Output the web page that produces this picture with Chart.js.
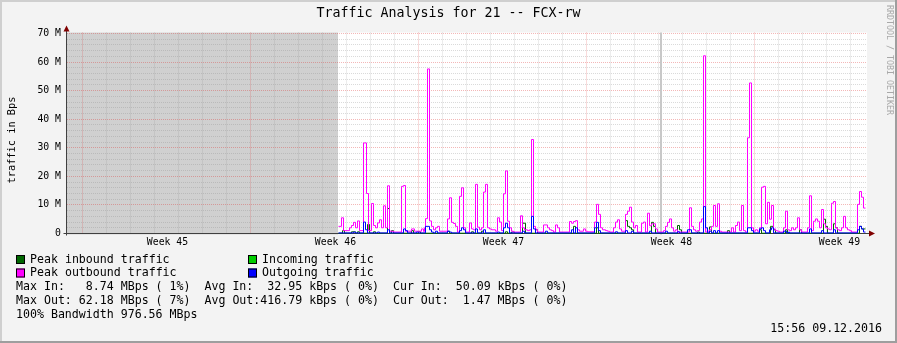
<!DOCTYPE html>
<html><head><meta charset="utf-8">
<script src="https://cdn.jsdelivr.net/npm/chart.js@4.4.1/dist/chart.umd.min.js"></script>
<style>html,body{margin:0;padding:0;background:#f3f3f3;overflow:hidden}canvas{display:block}</style>
</head><body>
<canvas id="c" width="897" height="343"></canvas>
<script>
// ---------- DATA ----------
const chartTitle = 'Traffic Analysis for 21 -- FCX-rw';
const yAxisTitle = 'traffic in Bps';
const yTickValues = [0, 10, 20, 30, 40, 50, 60, 70];           // in M (millions of Bps)
const weekTickHours = [100, 268, 436, 604, 772];                 // hours from left edge of graph
const weekLabels = ['Week 45', 'Week 46', 'Week 47', 'Week 48', 'Week 49'];
const weekStartHours = [15, 183, 351, 519, 687];
const dayStartHour = 15;
const unknownSpan = [-0.5, 270.5];
const vruleHour = 593.5;

// Peak outbound traffic (magenta) – change points: hour, value in M
const peakOutHours = [271,274,276,282,284,286,288,290,292,296,299,301,304,306,308,310,312,314,316,318,320,322,326,334,336,338,344,347,354,356,357,358,360,362,364,366,368,370,372,380,382,384,386,388,390,392,394,396,398,402,404,406,408,410,412,414,416,418,420,422,424,428,430,432,434,436,438,440,442,444,446,453,455,457,460,462,464,466,468,470,476,480,482,484,486,488,490,492,502,504,506,508,510,512,516,518,520,527,529,531,533,535,538,540,542,546,548,550,552,554,558,560,562,564,566,568,570,574,576,578,580,582,584,588,590,596,598,600,602,604,606,608,610,622,624,626,628,630,632,634,636,638,640,642,644,646,648,650,652,654,664,666,668,670,672,674,676,678,680,682,684,686,688,690,692,694,696,698,700,702,704,706,708,710,712,716,718,720,722,724,726,728,730,732,734,740,742,744,746,748,750,752,754,756,758,760,762,764,766,768,770,772,774,776,778,780,782,784,790,792,794,796,798];
const peakOutValues = [2.5,5.5,1.0,2.0,2.8,3.9,2.0,4.4,1.0,31.7,14.0,1.0,10.5,2.8,2.0,3.7,4.8,2.0,9.7,2.0,16.7,0.8,0.5,16.5,16.8,0.8,1.6,0.8,1.6,0.7,2.0,5.2,57.6,4.4,2.5,1.3,2.0,2.5,0.8,5.1,12.5,3.9,3.5,2.5,0.5,13.0,16.0,2.0,0.5,3.7,1.6,1.3,17.2,2.2,1.3,2.0,14.5,17.2,2.0,1.6,1.3,0.8,5.5,4.0,1.0,13.9,21.9,4.3,2.0,0.8,0.5,6.2,2.0,1.3,1.0,1.3,32.9,2.5,1.5,0.5,3.0,2.0,1.3,1.0,0.5,3.0,2.0,0.5,4.2,3.6,4.2,4.5,1.3,0.8,1.6,0.8,0.6,4.0,10.2,6.7,2.0,1.3,1.0,0.8,0.5,2.0,4.0,4.8,1.6,0.8,6.7,7.8,9.2,4.0,2.0,2.8,0.5,3.6,4.0,0.5,7.1,2.7,3.4,1.6,0.5,1.0,2.5,3.9,5.1,2.0,0.8,1.3,0.5,9.0,2.5,1.3,0.8,1.0,4.0,5.1,62.2,0.5,0.8,1.3,2.5,9.8,2.5,10.4,0.8,0.5,2.0,0.5,2.8,4.0,1.0,9.8,1.0,0.5,33.5,52.7,2.0,0.8,1.3,0.8,2.0,16.2,16.5,3.4,10.9,5.0,9.8,1.6,1.0,0.8,0.5,2.0,7.8,1.3,1.0,2.0,1.3,2.0,5.5,1.3,0.5,2.0,13.2,1.0,4.3,5.1,4.3,2.0,8.4,3.4,2.0,1.6,1.3,10.6,11.2,2.0,1.3,1.0,2.0,6.0,2.0,1.3,1.0,0.5,10.2,14.7,12.7,8.9,8.9];

// Outgoing traffic (blue)
const outHours = [271,286,288,296,298,300,310,312,320,322,336,338,340,349,351,358,362,364,366,368,370,380,382,384,392,394,396,398,408,410,416,418,430,432,436,438,440,442,455,457,464,466,468,478,480,504,506,508,510,527,529,531,533,548,550,558,560,564,566,582,584,598,600,610,612,620,624,636,638,640,642,644,646,648,650,652,680,684,686,692,694,696,698,702,704,706,716,719,721,722,742,744,754,756,766,768,790,792,794,796,798];
const outValues = [0.2,0.5,0.2,4.0,1.3,0.2,0.5,0.2,1.3,0.2,1.6,1.0,0.2,0.5,0.2,2.5,1.3,0.5,0.2,0.8,0.2,0.8,0.5,0.2,1.0,2.0,1.3,0.2,1.6,0.2,1.3,0.2,0.5,0.2,2.0,3.6,2.0,0.2,0.8,0.2,6.0,1.6,0.2,0.8,0.2,1.3,0.2,2.0,0.2,2.0,3.9,1.0,0.2,0.6,0.2,1.0,0.2,0.8,0.2,0.8,0.2,0.8,0.2,0.6,0.2,1.3,0.2,9.4,2.0,0.2,0.8,0.2,1.0,0.2,1.0,0.2,2.0,1.0,0.2,1.6,2.0,1.0,0.2,1.3,2.0,0.2,0.8,0.2,0.5,0.2,1.6,0.2,1.0,0.2,1.3,0.2,1.3,2.5,1.6,0.5,0.5];

// Peak inbound traffic (dark green)
const peakInHours = [271,275,277,284,288,290,292,300,302,306,308,320,322,324,326,344,346,351,353,380,382,404,406,414,416,438,440,444,447,455,458,468,470,506,508,529,531,558,560,562,564,566,584,586,588,610,612,614,630,632,642,644,660,662,692,694,703,706,708,718,720,732,734,756,758,760,766,768,770,792,794,798];
const peakInValues = [0.1,1.0,0.1,0.6,0.1,0.6,0.1,3.2,0.1,0.6,0.1,8.74,0.1,1.0,0.1,1.0,0.1,0.6,0.1,0.8,0.1,0.6,0.1,0.8,0.1,0.6,0.1,0.5,0.1,3.6,0.1,1.3,0.1,2.5,0.1,2.0,0.1,4.5,2.5,2.0,1.3,0.1,3.9,2.5,0.1,2.8,1.3,0.1,0.5,0.1,2.3,0.1,1.0,0.1,1.3,0.1,2.5,1.3,0.1,1.3,0.1,1.3,0.1,5.0,2.5,0.1,3.4,2.0,0.1,2.5,1.6,1.6];

// Incoming traffic (green area) – average ~33 kBps, essentially flat at the baseline
const inHours = [271, 798];
const inValues = [0.03, 0.05];

const legendItems = [
  ['Peak inbound traffic', '#006600'],
  ['Incoming traffic', '#00cc00'],
  ['Peak outbound traffic', '#ff00ff'],
  ['Outgoing traffic', '#0000ff']
];
const statLines = [
  'Max In:   8.74 MBps ( 1%)  Avg In:  32.95 kBps ( 0%)  Cur In:  50.09 kBps ( 0%)',
  'Max Out: 62.18 MBps ( 7%)  Avg Out:416.79 kBps ( 0%)  Cur Out:  1.47 MBps ( 0%)',
  '100% Bandwidth 976.56 MBps'
];
const timestampText = '15:56 09.12.2016';
const creditText = 'RRDTOOL / TOBI OETIKER';

// ---------- CHART ----------
const MONO = "'DejaVu Sans Mono', monospace";
const pts = (hs, vs) => hs.map((h, i) => ({x: h, y: vs[i]}));

const rrdPlugin = {
  id: 'rrd',
  beforeDraw(chart) {
    const {ctx, chartArea: a, scales: {x, y}} = chart;
    const W = chart.width, H = chart.height;
    ctx.save();
    ctx.fillStyle = '#f3f3f3'; ctx.fillRect(0, 0, W, H);
    ctx.fillStyle = '#cfcfcf'; ctx.fillRect(0, 0, W, 2); ctx.fillRect(0, 0, 2, H);
    ctx.fillStyle = '#9e9e9e'; ctx.fillRect(0, H - 2, W, 2); ctx.fillRect(W - 2, 0, 2, H);
    const top = Math.round(y.getPixelForValue(70)) - 0.5;
    const bot = Math.round(y.getPixelForValue(0)) + 0.5;
    ctx.fillStyle = '#ffffff'; ctx.fillRect(a.left, top, a.right - a.left, bot - top);
    const ux0 = x.getPixelForValue(unknownSpan[0]), ux1 = x.getPixelForValue(unknownSpan[1]);
    ctx.fillStyle = '#d0d0d0'; ctx.fillRect(ux0, top, ux1 - ux0, bot - top);
    ctx.lineWidth = 1; ctx.setLineDash([1, 1]);
    // minor grid
    ctx.strokeStyle = 'rgba(140,140,140,0.32)';
    ctx.beginPath();
    for (let v = 2; v < 70; v += 2) {
      if (v % 10 === 0) continue;
      const py = Math.floor(y.getPixelForValue(v)) + 0.5;
      ctx.moveTo(a.left, py); ctx.lineTo(a.right, py);
    }
    for (let h = dayStartHour; h < x.max; h += 24) {
      if (weekStartHours.includes(h)) continue;
      const px = Math.floor(x.getPixelForValue(h)) + 0.5;
      ctx.moveTo(px, top); ctx.lineTo(px, bot);
    }
    ctx.stroke();
    // major grid
    ctx.strokeStyle = 'rgba(220,50,50,0.35)';
    ctx.beginPath();
    for (const v of yTickValues) {
      if (v === 0) continue;
      const py = Math.floor(y.getPixelForValue(v)) + 0.5;
      ctx.moveTo(a.left, py); ctx.lineTo(a.right, py);
    }
    for (const h of weekStartHours) {
      const px = Math.floor(x.getPixelForValue(h)) + 0.5;
      ctx.moveTo(px, top); ctx.lineTo(px, bot);
    }
    ctx.stroke();
    ctx.setLineDash([]);
    // vrule
    const vx = Math.round(x.getPixelForValue(vruleHour));
    ctx.fillStyle = '#c8c8c8'; ctx.fillRect(vx - 1, top, 2, bot - top);
    ctx.restore();
  },
  beforeDatasetsDraw(chart) {
    const {ctx, chartArea: a, scales: {x, y}} = chart;
    const ay = Math.floor(y.getPixelForValue(0)) + 0.5;
    const ax = a.left - 0.5;
    const ty = Math.floor(y.getPixelForValue(70)) + 0.5;
    ctx.save();
    ctx.strokeStyle = '#404040'; ctx.lineWidth = 1;
    ctx.beginPath();
    ctx.moveTo(ax, ay + 2); ctx.lineTo(ax, ty - 3);
    ctx.moveTo(ax - 3, ay); ctx.lineTo(a.right + 2, ay);
    ctx.stroke();
    ctx.fillStyle = '#800000';
    ctx.beginPath();
    ctx.moveTo(ax - 3, ty - 2); ctx.lineTo(ax + 3, ty - 2); ctx.lineTo(ax, ty - 8); ctx.closePath(); ctx.fill();
    ctx.beginPath();
    ctx.moveTo(a.right + 2, ay - 3); ctx.lineTo(a.right + 2, ay + 3); ctx.lineTo(a.right + 8, ay); ctx.closePath(); ctx.fill();
    ctx.restore();
  },
  afterDraw(chart) {
    const {ctx} = chart;
    ctx.save();
    ctx.fillStyle = '#000';
    ctx.textBaseline = 'middle';
    // title
    ctx.font = `13.3px ${MONO}`; ctx.textAlign = 'center';
    ctx.fillText(chartTitle, chart.width / 2, 14);
    // y axis title
    ctx.save();
    ctx.font = `10.3px ${MONO}`;
    ctx.translate(12, 140); ctx.rotate(-Math.PI / 2);
    ctx.fillText(yAxisTitle, 0, 0);
    ctx.restore();
    // credit
    ctx.save();
    ctx.fillStyle = '#a8a8a8'; ctx.font = `8.3px ${MONO}`;
    ctx.translate(889, 60); ctx.rotate(Math.PI / 2);
    ctx.fillText(creditText, 0, 0);
    ctx.restore();
    // legend
    ctx.font = `11.6px ${MONO}`; ctx.textAlign = 'left';
    const cols = [16, 248], rows = [259.5, 273];
    legendItems.forEach(([label, color], i) => {
      const cx = cols[i % 2], cy = rows[Math.floor(i / 2)];
      ctx.fillStyle = color; ctx.fillRect(cx, cy - 4.5, 9, 9);
      ctx.strokeStyle = '#000'; ctx.lineWidth = 1; ctx.strokeRect(cx + 0.5, cy - 4, 8, 8);
      ctx.fillStyle = '#000'; ctx.fillText(label, cx + 14, cy);
    });
    statLines.forEach((s, i) => ctx.fillText(s, 16, 287 + i * 14));
    ctx.textAlign = 'right';
    ctx.fillText(timestampText, 882, 329);
    ctx.restore();
  }
};

new Chart(document.getElementById('c'), {
  type: 'line',
  data: {
    datasets: [
      {label: 'Outgoing traffic', data: pts(outHours, outValues), borderColor: '#0000ff', borderWidth: 1, stepped: true, pointRadius: 0, fill: false},
      {label: 'Peak outbound traffic', data: pts(peakOutHours, peakOutValues), borderColor: '#ff00ff', borderWidth: 1, stepped: true, pointRadius: 0, fill: false},
      {label: 'Peak inbound traffic', data: pts(peakInHours, peakInValues), borderColor: '#006600', borderWidth: 1, stepped: true, pointRadius: 0, fill: false},
      {label: 'Incoming traffic', data: pts(inHours, inValues), borderColor: '#00cc00', backgroundColor: '#00cc00', borderWidth: 0, stepped: true, pointRadius: 0, fill: 'origin'}
    ]
  },
  options: {
    responsive: false,
    animation: false,
    devicePixelRatio: 1,
    layout: {padding: {left: 0, right: 30, top: 33, bottom: 89}},
    plugins: {legend: {display: false}, title: {display: false}, tooltip: {enabled: false}},
    scales: {
      x: {
        type: 'linear', min: -0.5, max: 799.5,
        afterFit(s) { s.height = 20; },
        afterBuildTicks(s) { s.ticks = weekTickHours.map(v => ({value: v})); },
        grid: {display: false, drawTicks: false}, border: {display: false},
        ticks: {autoSkip: false, maxRotation: 0, padding: 3, color: '#000',
          font: {family: MONO, size: 9.8},
          callback: (v, i) => weekLabels[i]}
      },
      y: {
        type: 'linear', min: -0.175, max: 70.175,
        afterFit(s) { s.width = 67; },
        afterBuildTicks(s) { s.ticks = yTickValues.map(v => ({value: v})); },
        grid: {display: false, drawTicks: false}, border: {display: false},
        ticks: {padding: 6, color: '#000', font: {family: MONO, size: 9.8},
          callback: v => (v === 0 ? '0' : v + ' M')}
      }
    }
  },
  plugins: [rrdPlugin]
});
</script>
</body></html>
